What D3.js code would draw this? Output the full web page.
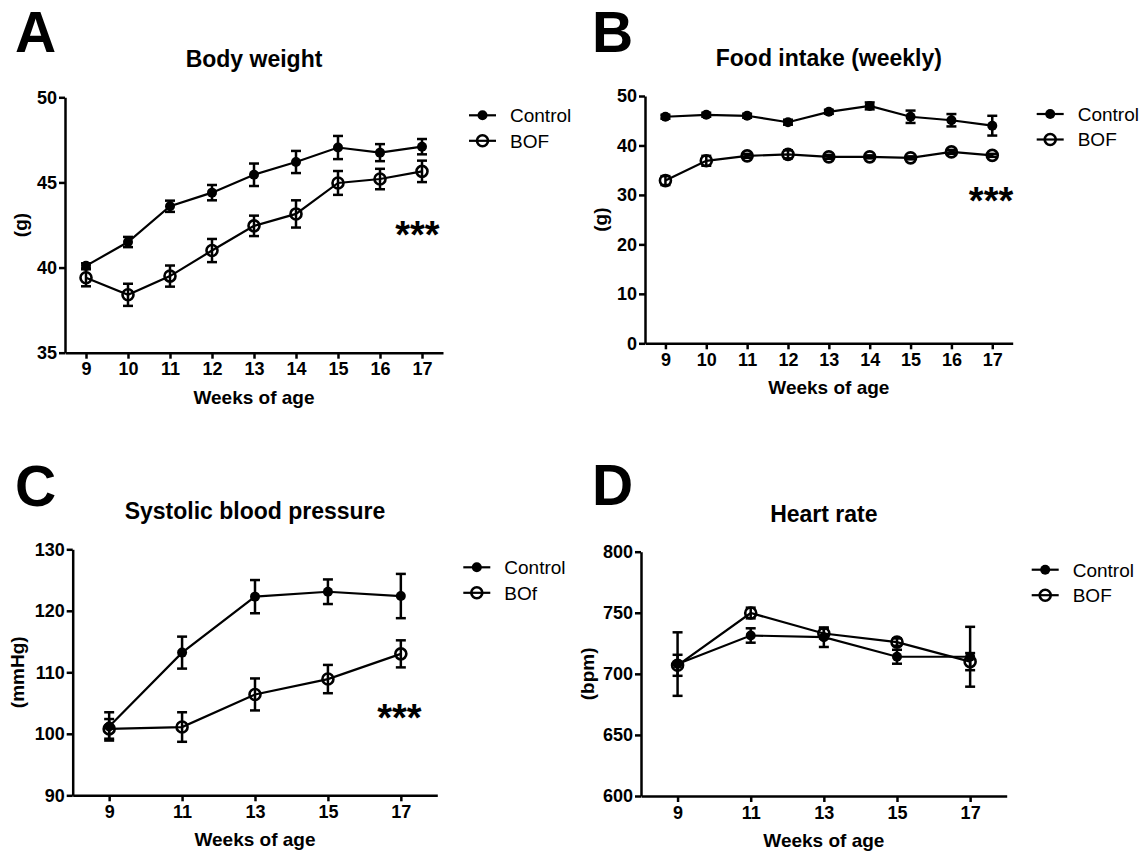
<!DOCTYPE html>
<html>
<head>
<meta charset="utf-8">
<script src="https://cdn.jsdelivr.net/npm/d3@7"></script>
<style>
  body { margin: 0; background: #fff; }
  svg { font-family: "Liberation Sans", Arial, sans-serif; }
  .axis path, .axis line { stroke: #000; stroke-width: 2.5; }
  .axis text { font-size: 18px; font-weight: bold; fill: #000; }
</style>
</head>
<body>
<svg id="chart" width="1143" height="856"></svg>
<script>
// weeks
var weeksAB = [9, 10, 11, 12, 13, 14, 15, 16, 17];
var weeksCD = [9, 11, 13, 15, 17];

// A body weight (g)
var bwControl    = [40.1, 41.5, 43.6, 44.4, 45.45, 46.2, 47.05, 46.75, 47.1];
var bwControlSem = [0.15, 0.3, 0.33, 0.45, 0.66, 0.65, 0.68, 0.5, 0.45];
var bwBof        = [39.4, 38.4, 39.5, 41.0, 42.45, 43.15, 44.97, 45.2, 45.65];
var bwBofSem     = [0.5, 0.65, 0.62, 0.68, 0.6, 0.8, 0.7, 0.6, 0.63];

// B food intake (g)
var foodControl    = [45.8, 46.2, 46.0, 44.7, 46.8, 48.0, 45.8, 45.1, 44.0];
var foodControlSem = [0.4, 0.4, 0.4, 0.5, 0.4, 0.7, 1.25, 1.25, 2.0];
var foodBof        = [32.9, 36.9, 37.9, 38.2, 37.7, 37.7, 37.5, 38.7, 38.0];
var foodBofSem     = [0.9, 1.0, 0.4, 0.8, 0.4, 0.3, 0.3, 0.4, 0.3];

// C systolic blood pressure (mmHg)
var sbpControl    = [101.2, 113.2, 122.3, 123.1, 122.4];
var sbpControlSem = [2.3, 2.6, 2.7, 2.0, 3.6];
var sbpBof        = [100.8, 101.1, 106.4, 108.9, 113.0];
var sbpBofSem     = [1.6, 2.4, 2.6, 2.3, 2.2];

// D heart rate (bpm)
var hrControl    = [708, 731.4, 730, 714, 714];
var hrControlSem = [26, 5.9, 8, 5.7, 24.5];
var hrBof        = [707, 749.8, 733, 726, 710];
var hrBofSem     = [8.6, 4.4, 4, 3, 7];

var ticksA = [35, 40, 45, 50];
var ticksB = [0, 10, 20, 30, 40, 50];
var ticksC = [90, 100, 110, 120, 130];
var ticksD = [600, 650, 700, 750, 800];

var legendABD = ["Control", "BOF"];
var legendC = ["Control", "BOf"];

var svg = d3.select("#chart");

var panels = [
  {letter: "A", title: "Body weight", ylab: "(g)", weeks: weeksAB, xdom: [8.5, 17.5], ydom: [35, 50], yticks: ticksA,
   ctrl: bwControl, ctrlSem: bwControlSem, bof: bwBof, bofSem: bwBofSem, legend: legendABD, star: [16.89, 42.4],
   x0: 65, x1: 443, yTop: 97.3, yBot: 352.7, labOff: 45, lx: 15, ly: 51.7, lgOff: 26},
  {letter: "B", title: "Food intake (weekly)", ylab: "(g)", weeks: weeksAB, xdom: [8.5, 17.5], ydom: [0, 50], yticks: ticksB,
   ctrl: foodControl, ctrlSem: foodControlSem, bof: foodBof, bofSem: foodBofSem, legend: legendABD, star: [16.97, 30.6],
   x0: 645, x1: 1012.7, yTop: 96, yBot: 343.3, labOff: 45, lx: 592, ly: 51.7, lgOff: 24},
  {letter: "C", title: "Systolic blood pressure", ylab: "(mmHg)", weeks: weeksCD, xdom: [8, 18], ydom: [90, 130], yticks: ticksC,
   ctrl: sbpControl, ctrlSem: sbpControlSem, bof: sbpBof, bofSem: sbpBofSem, legend: legendC, star: [16.96, 104.0],
   x0: 72.7, x1: 437.3, yTop: 549.3, yBot: 795.3, labOff: 55, lx: 15, ly: 505.5, lgOff: 26},
  {letter: "D", title: "Heart rate", ylab: "(bpm)", weeks: weeksCD, xdom: [8, 18], ydom: [600, 800], yticks: ticksD,
   ctrl: hrControl, ctrlSem: hrControlSem, bof: hrBof, bofSem: hrBofSem, legend: legendABD, star: null,
   x0: 641, x1: 1006.7, yTop: 551.7, yBot: 796, labOff: 54, lx: 592, ly: 505, lgOff: 25}
];

panels.forEach(function(p) {
  var x = d3.scaleLinear().domain(p.xdom).range([p.x0, p.x1]);
  var y = d3.scaleLinear().domain(p.ydom).range([p.yBot, p.yTop]);
  var g = svg.append("g");

  g.append("text").attr("x", p.lx).attr("y", p.ly)
    .style("font-size", "57px").style("font-weight", "bold").text(p.letter);

  g.append("text").attr("x", (p.x0 + p.x1) / 2).attr("y", p.yTop - 30)
    .attr("text-anchor", "middle").style("font-size", "23px").style("font-weight", "bold").text(p.title);

  g.append("g").attr("class", "axis").attr("transform", "translate(" + p.x0 + ",0)")
    .call(d3.axisLeft(y).tickValues(p.yticks).tickSize(6).tickSizeOuter(0).tickPadding(2));

  g.append("g").attr("class", "axis").attr("transform", "translate(0," + p.yBot + ")")
    .call(d3.axisBottom(x).tickValues(p.weeks).tickSize(6).tickSizeOuter(0).tickPadding(4));

  g.append("text").attr("x", (p.x0 + p.x1) / 2).attr("y", p.yBot + 51)
    .attr("text-anchor", "middle").style("font-size", "19px").style("font-weight", "bold").text("Weeks of age");

  g.append("text")
    .attr("transform", "translate(" + (p.x0 - p.labOff) + "," + ((p.yTop + p.yBot) / 2) + ") rotate(-90)")
    .attr("text-anchor", "middle").attr("dy", "0.35em")
    .style("font-size", "19px").style("font-weight", "bold").text(p.ylab);

  var series = [
    {vals: p.ctrl, sem: p.ctrlSem, open: false},
    {vals: p.bof, sem: p.bofSem, open: true}
  ];
  var line = d3.line().x(function(d, i) { return x(p.weeks[i]); }).y(function(d) { return y(d); });

  series.forEach(function(s) {
    g.append("path").datum(s.vals).attr("d", line)
      .attr("fill", "none").attr("stroke", "#000").attr("stroke-width", 2.2);
    var eb = g.append("g").selectAll("g").data(s.vals).enter().append("g");
    eb.append("line")
      .attr("x1", function(d, i) { return x(p.weeks[i]); })
      .attr("x2", function(d, i) { return x(p.weeks[i]); })
      .attr("y1", function(d, i) { return y(d - s.sem[i]); })
      .attr("y2", function(d, i) { return y(d + s.sem[i]); })
      .attr("stroke", "#000").attr("stroke-width", 2.5);
    [-1, 1].forEach(function(sign) {
      eb.append("line")
        .attr("x1", function(d, i) { return x(p.weeks[i]) - 5; })
        .attr("x2", function(d, i) { return x(p.weeks[i]) + 5; })
        .attr("y1", function(d, i) { return y(d + sign * s.sem[i]); })
        .attr("y2", function(d, i) { return y(d + sign * s.sem[i]); })
        .attr("stroke", "#000").attr("stroke-width", 2.5);
    });
    g.append("g").selectAll("circle").data(s.vals).enter().append("circle")
      .attr("cx", function(d, i) { return x(p.weeks[i]); })
      .attr("cy", function(d) { return y(d); })
      .attr("r", s.open ? 5.5 : 5)
      .attr("fill", s.open ? "none" : "#000")
      .attr("stroke", "#000").attr("stroke-width", s.open ? 2.6 : 0);
  });

  // legend
  var lgx = p.x1 + p.lgOff, lgy = p.yTop + 18;
  p.legend.forEach(function(name, i) {
    var yy = lgy + i * 25.5;
    g.append("line").attr("x1", lgx).attr("x2", lgx + 27).attr("y1", yy).attr("y2", yy)
      .attr("stroke", "#000").attr("stroke-width", 2.2);
    g.append("circle").attr("cx", lgx + 13.5).attr("cy", yy).attr("r", i ? 5.5 : 5)
      .attr("fill", i ? "none" : "#000").attr("stroke", "#000").attr("stroke-width", i ? 2.6 : 0);
    g.append("text").attr("x", lgx + 41).attr("y", yy).attr("dy", "0.36em")
      .style("font-size", "19px").text(name);
  });

  if (p.star) {
    g.append("text").attr("x", x(p.star[0])).attr("y", y(p.star[1])).attr("dy", "0.57em")
      .attr("text-anchor", "middle").style("font-size", "38px").style("font-weight", "bold").text("***");
  }
});
</script>
</body>
</html>
